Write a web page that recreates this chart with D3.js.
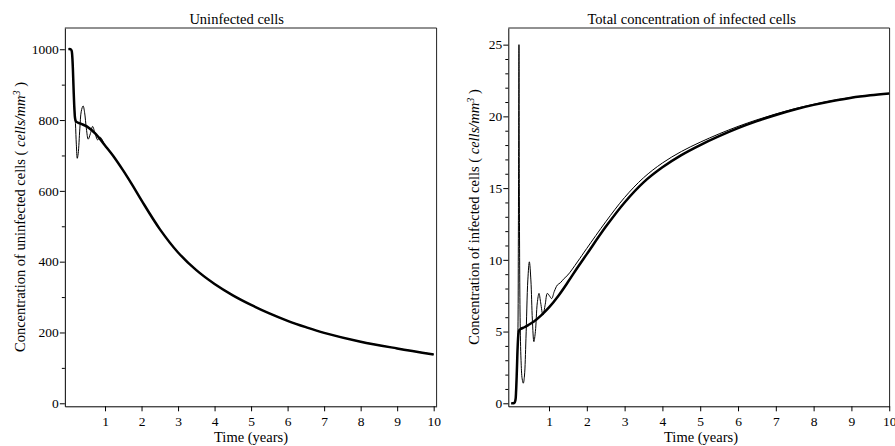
<!DOCTYPE html>
<html>
<head>
<meta charset="utf-8">
<script src="https://cdn.jsdelivr.net/npm/d3@7"></script>
<style>
  html, body { margin: 0; padding: 0; background: #fff; }
  svg { display: block; font-family: "Liberation Serif", "Times New Roman", serif; }
</style>
</head>
<body>
<svg id="chart" width="895" height="446"></svg>
<script>
// ---------- data ----------
// Left panel: uninfected cells
const uninfTimeA = [0, 0.06, 0.085, 0.1, 0.12, 0.14, 0.16, 0.18, 0.2, 0.25, 0.35, 0.5, 0.75, 1.0, 1.25, 1.5, 1.75, 2.0, 2.5, 3.0, 3.5, 4.0, 4.5, 5.0, 5.5, 6.0, 6.5, 7.0, 8.0, 9.0, 10.0];
const uninfThick = [1000, 1000, 996, 985, 945, 885, 835, 805, 797, 793, 789, 782, 760, 728, 695, 657, 616, 573, 492, 426, 376, 337, 305, 278, 254, 233, 215, 199, 174, 155, 138];
const uninfTimeB = [0, 0.06, 0.085, 0.1, 0.12, 0.14, 0.16, 0.19, 0.215, 0.24, 0.265, 0.31, 0.35, 0.4, 0.44, 0.49, 0.54, 0.6, 0.66, 0.72, 0.8, 0.86, 0.92, 1.0, 1.25, 1.5, 1.75, 2.0, 2.5, 3.0, 3.5, 4.0, 4.5, 5.0, 5.5, 6.0, 6.5, 7.0, 8.0, 9.0, 10.0];
const uninfThin = [1000, 1000, 996, 985, 945, 885, 835, 790, 730, 692, 705, 775, 825, 840, 822, 775, 746, 762, 782, 765, 744, 752, 745, 728, 695, 657, 616, 573, 492, 426, 376, 337, 305, 278, 254, 233, 215, 199, 174, 155, 138];

// Right panel: total infected cells
const infTimeA = [0, 0.08, 0.11, 0.13, 0.15, 0.17, 0.19, 0.21, 0.25, 0.35, 0.45, 0.6, 0.8, 1.0, 1.25, 1.5, 1.75, 2.0, 2.5, 3.0, 3.5, 4.0, 4.5, 5.0, 5.5, 6.0, 6.5, 7.0, 7.5, 8.0, 8.5, 9.0, 9.5, 10.0];
const infThick = [0, 0.02, 0.2, 0.9, 2.3, 3.9, 4.8, 5.08, 5.18, 5.3, 5.45, 5.7, 6.15, 6.68, 7.5, 8.45, 9.45, 10.4, 12.3, 14.0, 15.4, 16.45, 17.3, 18.0, 18.62, 19.18, 19.67, 20.1, 20.48, 20.8, 21.07, 21.3, 21.47, 21.6];
const infTimeB = [0, 0.08, 0.11, 0.13, 0.15, 0.175, 0.19, 0.205, 0.215, 0.235, 0.26, 0.29, 0.32, 0.35, 0.39, 0.44, 0.48, 0.52, 0.56, 0.6, 0.64, 0.69, 0.735, 0.78, 0.84, 0.9, 0.955, 1.01, 1.07, 1.14, 1.22, 1.3, 1.4, 1.5, 1.75, 2.0, 2.5, 3.0, 3.5, 4.0, 4.5, 5.0, 5.5, 6.0, 6.5, 7.0, 7.5, 8.0, 9.0, 10.0];
const infThin = [0, 0.02, 0.2, 1.0, 2.5, 4.6, 12, 25, 15, 6, 3, 1.7, 1.4, 1.9, 4.5, 8.6, 9.86, 8.6, 5.8, 4.3, 5.0, 7.0, 7.66, 7.0, 6.15, 6.9, 7.66, 7.5, 7.3, 7.8, 8.24, 8.4, 8.7, 8.95, 9.85, 10.8, 12.65, 14.35, 15.72, 16.75, 17.55, 18.2, 18.78, 19.3, 19.76, 20.17, 20.53, 20.84, 21.32, 21.6];

// tick values
const xTicks = [1, 2, 3, 4, 5, 6, 7, 8, 9, 10];
const uninfTicks = [0, 200, 400, 600, 800, 1000];
const uninfMinor = [100, 300, 500, 700, 900];
const infTicks = [0, 5, 10, 15, 20, 25];
const infMinor = [1, 2, 3, 4, 6, 7, 8, 9, 11, 12, 13, 14, 16, 17, 18, 19, 21, 22, 23, 24];

// ---------- drawing ----------
const svg = d3.select("#chart");

function panel(cfg) {
  const g = svg.append("g");
  const x = d3.scaleLinear().domain(cfg.xDomain).range(cfg.xRange);
  const y = d3.scaleLinear().domain(cfg.yDomain).range(cfg.yRange);
  const [x0, x1] = cfg.xRange;
  const [yb, yt] = cfg.yRange;

  // frame top + right
  g.append("path")
    .attr("d", `M${x0},${yt}H${x1}V${yb}`)
    .attr("fill", "none").attr("stroke", "#222").attr("stroke-width", 1);

  // x axis
  g.append("g").attr("transform", `translate(0,${yb})`)
    .call(d3.axisBottom(x).tickValues(xTicks).tickFormat(d3.format("d")).tickSize(5).tickSizeOuter(0).tickPadding(5.5));
  // y axis major
  g.append("g").attr("transform", `translate(${x0},0)`)
    .call(d3.axisLeft(y).tickValues(cfg.yTicks).tickFormat(d3.format("d")).tickSize(5).tickSizeOuter(0).tickPadding(1));
  // y axis minor
  g.append("g").attr("transform", `translate(${x0},0)`)
    .call(d3.axisLeft(y).tickValues(cfg.yMinor).tickFormat("").tickSize(3).tickSizeOuter(0))
    .select(".domain").remove();

  g.selectAll(".tick text").attr("font-size", 13.5).attr("font-family", "Liberation Serif").attr("fill", "#000");
  g.selectAll(".domain, .tick line").attr("stroke", "#000");

  const clipId = cfg.id + "-clip";
  g.append("clipPath").attr("id", clipId).append("rect")
    .attr("x", x0).attr("y", yt).attr("width", x1 - x0).attr("height", yb - yt);

  const line = d3.line().x(d => x(d[0])).y(d => y(d[1])).curve(d3.curveCatmullRom.alpha(0.5));
  const lines = g.append("g").attr("clip-path", `url(#${clipId})`);
  lines.append("path").datum(d3.zip(cfg.tB, cfg.vB))
    .attr("d", line).attr("fill", "none").attr("stroke", "#000").attr("stroke-width", 1).attr("stroke-linejoin", "round");
  lines.append("path").datum(d3.zip(cfg.tA, cfg.vA))
    .attr("d", line).attr("fill", "none").attr("stroke", "#000").attr("stroke-width", 2.5).attr("stroke-linejoin", "round");

  // title
  g.append("text").attr("x", cfg.titleX).attr("y", 24).attr("text-anchor", "middle")
    .attr("font-size", 14.5).text(cfg.title);
  // x label
  g.append("text").attr("x", cfg.xLabelX).attr("y", 441.5).attr("text-anchor", "middle")
    .attr("font-size", 14.5).text("Time (years)");
  // y label
  const yl = g.append("text").attr("transform", `translate(${cfg.yLabelX},217) rotate(-90)`)
    .attr("text-anchor", "middle").attr("font-size", 14.5);
  yl.append("tspan").text(cfg.yLabel + " ( ");
  yl.append("tspan").attr("font-style", "italic").text("cells/mm");
  yl.append("tspan").attr("font-style", "italic").attr("font-size", 10).attr("dy", -5).text("3");
  yl.append("tspan").attr("dy", 5).text(" )");
}

panel({
  id: "left",
  xDomain: [-0.1, 10.08], xRange: [64.85, 436.6],
  yDomain: [-8.5, 1060], yRange: [406.3, 28],
  yTicks: uninfTicks, yMinor: uninfMinor,
  tA: uninfTimeA, vA: uninfThick, tB: uninfTimeB, vB: uninfThin,
  title: "Uninfected cells", titleX: 236.7, xLabelX: 251,
  yLabel: "Concentration of uninfected cells", yLabelX: 25
});

panel({
  id: "right",
  xDomain: [-0.077, 10.01], xRange: [508.3, 889.6],
  yDomain: [-0.21, 26.16], yRange: [406.3, 28],
  yTicks: infTicks, yMinor: infMinor,
  tA: infTimeA, vA: infThick, tB: infTimeB, vB: infThin,
  title: "Total concentration of infected cells", titleX: 691.7, xLabelX: 701,
  yLabel: "Concentration of infected cells", yLabelX: 479
});
</script>
</body>
</html>
